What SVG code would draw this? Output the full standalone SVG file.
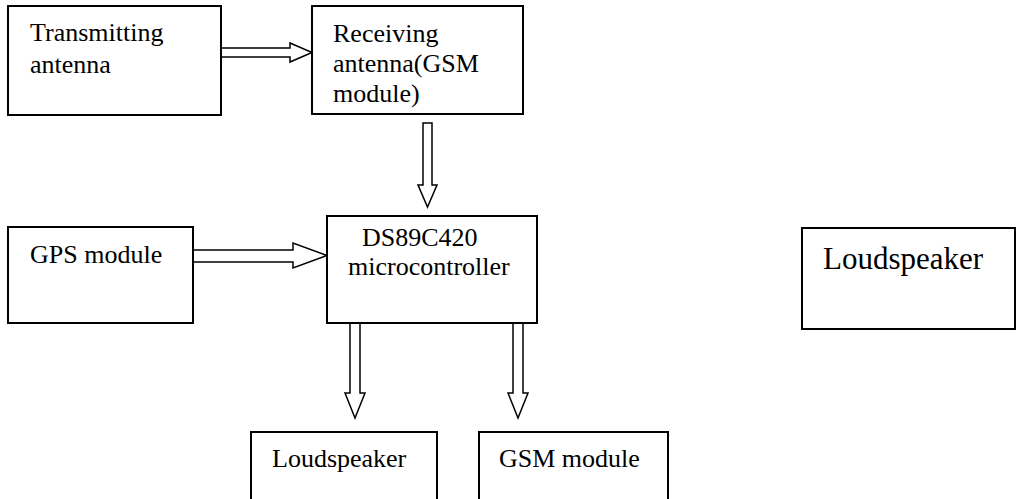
<svg xmlns="http://www.w3.org/2000/svg" width="1017" height="499" viewBox="0 0 1017 499">
<style>
.box{fill:#fff;stroke:#000;stroke-width:2}
.arr{fill:#fff;stroke:#000;stroke-width:1.5;stroke-linejoin:miter}
text{font-family:"Liberation Serif","Times New Roman",serif;font-size:26px;fill:#000}
.big{font-size:31px}
</style>
<rect width="1017" height="499" fill="#fff"/>
<g id="connectors">
<polygon class="arr" points="221,48 290,48 290,43 312,52.5 290,62 290,57 221,57"/>
<polygon class="arr" points="423,123 432,123 432,185 437,185 427.5,207 418,185 423,185"/>
<polygon class="arr" points="193,250 293,250 293,243 327,255.5 293,268 293,262 193,262"/>
<polygon class="arr" points="350,323 360,323 360,393 365,393 355,418 345,393 350,393"/>
<polygon class="arr" points="513,323 523,323 523,393 528,393 518,418 508,393 513,393"/>
</g>
<g id="transmitting">
<rect class="box" x="8" y="6" width="213" height="109"/>
<text x="30" y="41">Transmitting</text>
<text x="30" y="73">antenna</text>
</g>
<g id="receiving">
<rect class="box" x="312" y="6" width="211" height="108"/>
<text x="333" y="42">Receiving</text>
<text x="333" y="72">antenna(GSM</text>
<text x="333" y="102">module)</text>
</g>
<g id="gps">
<rect class="box" x="8" y="227" width="185" height="96"/>
<text x="30" y="263">GPS module</text>
</g>
<g id="mcu">
<rect class="box" x="327" y="216" width="210" height="107"/>
<text x="362" y="246">DS89C420</text>
<text x="348" y="275">microcontroller</text>
</g>
<g id="loudspeaker-right">
<rect class="box" x="802" y="228" width="213" height="101"/>
<text class="big" x="823" y="269">Loudspeaker</text>
</g>
<g id="loudspeaker-bottom">
<rect class="box" x="251" y="432" width="186" height="80"/>
<text x="272" y="467">Loudspeaker</text>
</g>
<g id="gsm">
<rect class="box" x="479" y="432" width="189" height="80"/>
<text x="499" y="467">GSM module</text>
</g>
</svg>
